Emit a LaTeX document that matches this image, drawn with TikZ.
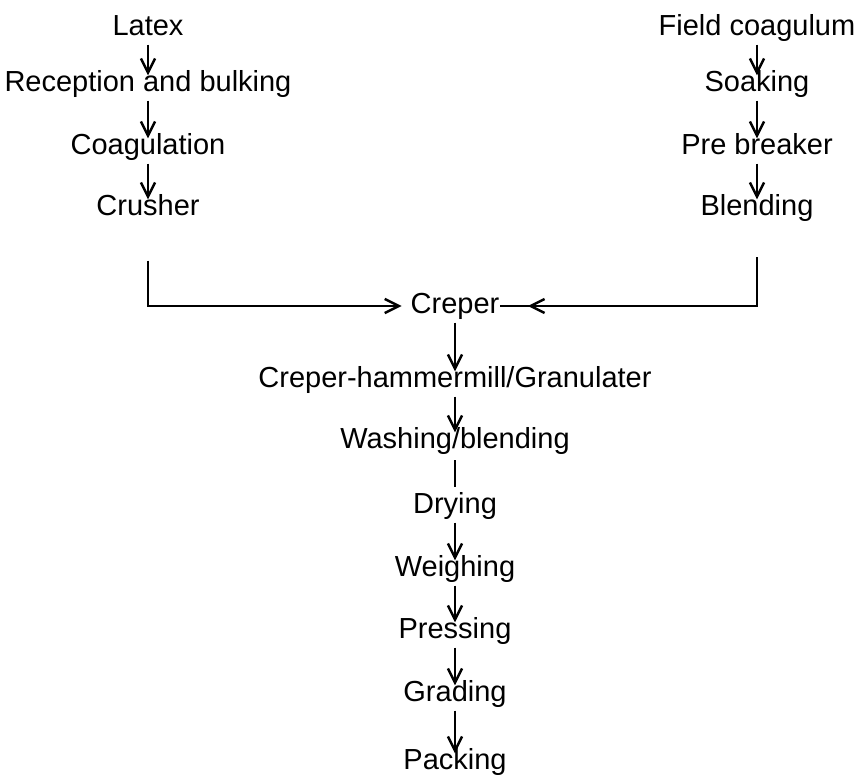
\documentclass[tikz,border=0pt]{standalone}
\usepackage{fontspec}
\setmainfont{Liberation Sans}
\usetikzlibrary{arrows.meta}
\usetikzlibrary{decorations.markings}

\begin{document}
\begin{tikzpicture}[x=0.02cm,y=-0.02cm,
   stage/.style={inner sep=0pt,font=\fontsize{16.5}{20}\selectfont,
      text height=12pt,text depth=3.5pt},
   flow/.style={line width=0.9pt,-{Straight Barb[length=8pt,width=8pt,line width=1.4pt]},
      shorten <=1.5pt,shorten >=-3pt},
   link/.style={line width=0.9pt}]
\useasboundingbox (0,0) rectangle (862,781);
% latex side
\node[stage] (latex) at (148,28) {Latex};
\node[stage] (recep) at (148,84) {Reception and bulking};
\node[stage] (coag) at (148,147) {Coagulation};
\node[stage] (crusher) at (148,208) {Crusher};
% field coagulum side
\node[stage] (field) at (757,28) {Field coagulum};
\node[stage] (soak) at (757,84) {Soaking};
\node[stage] (prebreak) at (757,147) {Pre breaker};
\node[stage] (blend) at (757,208) {Blending};
% main line
\node[stage] (creper) at (455,306) {Creper};
\node[stage] (hammer) at (455,380) {Creper-hammermill/Granulater};
\node[stage] (wash) at (455,441) {Washing/blending};
\node[stage] (dry) at (455,506) {Drying};
\node[stage] (weigh) at (455,569) {Weighing};
\node[stage] (press) at (455,631) {Pressing};
\node[stage] (grade) at (455,694) {Grading};
\node[stage] (pack) at (455,762) {Packing};

\draw[flow] (latex) -- (recep);
\draw[flow] (recep) -- (coag);
\draw[flow] (coag) -- (crusher);
\draw[flow] (field) -- (soak);
\draw[flow] (soak) -- (prebreak);
\draw[flow] (prebreak) -- (blend);

\draw[flow,shorten <=22pt,shorten >=5pt] (crusher.south) |- (creper.west);
\draw[link,shorten <=20pt,postaction={decorate},
   decoration={markings,mark=at position -16pt with
   {\arrow{Straight Barb[length=8pt,width=8pt,line width=1.4pt]}}}]
   (blend.south) |- (creper.east);

\draw[flow] (creper) -- (hammer);
\draw[flow] (hammer) -- (wash);
\draw[link,shorten <=3pt,shorten >=3pt] (wash) -- (dry);
\draw[flow] (dry) -- (weigh);
\draw[flow] (weigh) -- (press);
\draw[flow] (press) -- (grade);
\draw[flow] (grade) -- (pack);
\end{tikzpicture}
\end{document}
